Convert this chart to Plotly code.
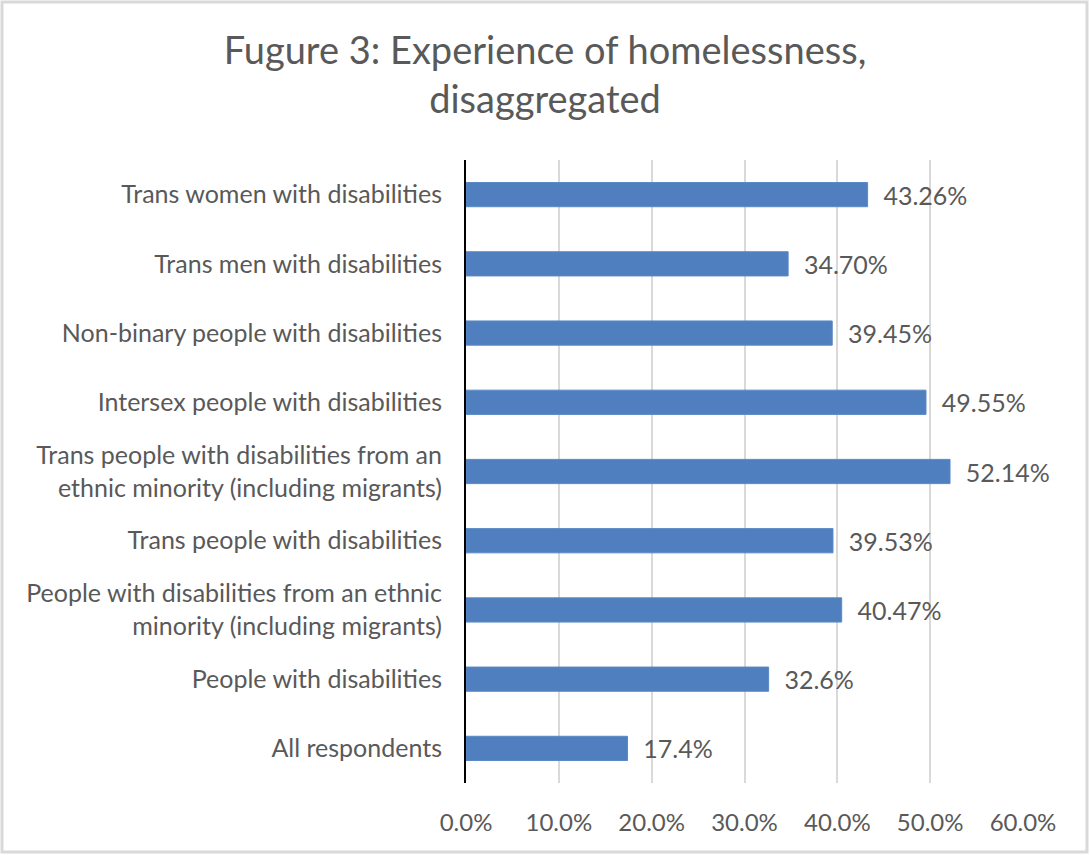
import plotly.graph_objects as go

# Groups listed bottom-to-top as drawn on the category axis
categories = [
    "All respondents",
    "People with disabilities",
    "People with disabilities from an ethnic<br>minority (including migrants)",
    "Trans people with disabilities",
    "Trans people with disabilities from an<br>ethnic minority (including migrants)",
    "Intersex people with disabilities",
    "Non-binary people with disabilities",
    "Trans men with disabilities",
    "Trans women with disabilities",
]
values = [17.4, 32.6, 40.47, 39.53, 52.14, 49.55, 39.45, 34.70, 43.26]
value_labels = ["17.4%", "32.6%", "40.47%", "39.53%", "52.14%", "49.55%", "39.45%", "34.70%", "43.26%"]
tick_vals = [0, 10, 20, 30, 40, 50, 60]
tick_text = ["0.0%", "10.0%", "20.0%", "30.0%", "40.0%", "50.0%", "60.0%"]

FONT = "Lato, Open Sans, sans-serif"
GREY = "#595959"

W, H = 1090, 855
ML, MR, MT, MB = 466, 67, 160, 72
PW, PH = W - ML - MR, H - MT - MB

fig = go.Figure(
    go.Bar(
        x=values,
        y=categories,
        orientation="h",
        marker=dict(color="#4F7FBE", line=dict(color="#5A89C4", width=1)),
        text=["\u00a0\u00a0" + t for t in value_labels],
        textposition="outside",
        constraintext="none",
        textfont=dict(size=25, color=GREY, family=FONT),
        cliponaxis=False,
    )
)

fig.update_layout(
    width=W,
    height=H,
    paper_bgcolor="white",
    plot_bgcolor="white",
    margin=dict(l=ML, r=MR, t=MT, b=MB),
    bargap=0.65,
    showlegend=False,
    title=dict(
        text="Fugure 3: Experience of homelessness,<br>disaggregated",
        x=0.5,
        xref="container",
        xanchor="center",
        y=1 - 64 / H,
        yref="container",
        yanchor="middle",
        font=dict(size=38, color=GREY, family=FONT),
    ),
    xaxis=dict(
        range=[0, 60],
        tickvals=tick_vals,
        ticktext=tick_text,
        showgrid=True,
        gridcolor="#D9D9D9",
        gridwidth=2,
        zeroline=False,
        showline=False,
        ticks="",
        ticklabelstandoff=23,
        tickfont=dict(size=24, color=GREY, family=FONT),
    ),
    yaxis=dict(
        range=[-0.5, 8.5],
        showgrid=False,
        zeroline=False,
        showline=True,
        linecolor="black",
        linewidth=2,
        ticks="",
        ticklabelstandoff=17,
        tickfont=dict(size=25, color=GREY, family=FONT),
    ),
    shapes=[
        dict(
            type="rect",
            xref="paper",
            yref="paper",
            x0=-(ML - 2) / PW,
            x1=1 + (MR - 3) / PW,
            y0=-(MB - 3) / PH,
            y1=1 + (MT - 2) / PH,
            line=dict(color="#D9D9D9", width=3),
            layer="below",
        )
    ],
)

fig.write_html("out.html")
